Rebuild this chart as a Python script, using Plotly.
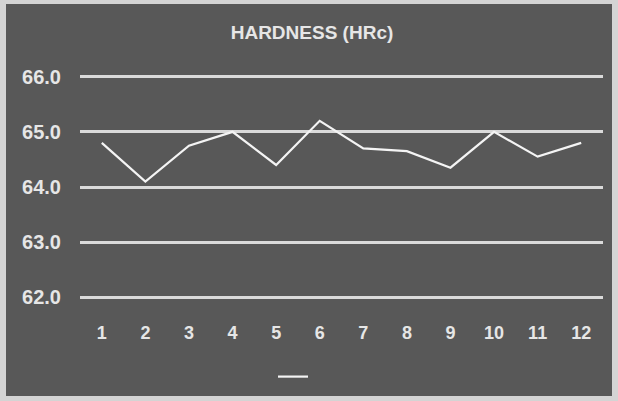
import plotly.graph_objects as go

# Hardness readings (HRc) for twelve samples
samples = ["1", "2", "3", "4", "5", "6", "7", "8", "9", "10", "11", "12"]
hardness = [64.8, 64.1, 64.75, 65.0, 64.4, 65.2, 64.7, 64.65, 64.35, 65.0, 64.55, 64.8]
y_ticks = [62.0, 63.0, 64.0, 65.0, 66.0]
y_tick_text = ["62.0", "63.0", "64.0", "65.0", "66.0"]

W, H = 618, 401
M_L, M_R, M_T, M_B = 80, 15, 75, 102
PW = W - M_L - M_R
PH = H - M_T - M_B

BG = "#585858"
FRAME = "#d4d4d4"
GRID = "#dadada"
TEXT = "#e6e6e6"
FONT = "Liberation Sans"


def px_x(px):
    return (px - M_L) / PW


def px_y(py):
    return (H - M_B - py) / PH


fig = go.Figure()
fig.add_trace(go.Scatter(
    x=samples,
    y=hardness,
    mode="lines",
    name=" ",
    line=dict(color="#f4f4f4", width=2.2),
    showlegend=True,
))

fig.update_layout(
    width=W,
    height=H,
    margin=dict(l=M_L, r=M_R, t=M_T, b=M_B, pad=0, autoexpand=False),
    paper_bgcolor=FRAME,
    plot_bgcolor="rgba(0,0,0,0)",
    title=dict(
        text="HARDNESS (HRc)",
        x=312 / W,
        xanchor="center",
        y=1 - 32 / H,
        yanchor="middle",
        font=dict(family=FONT, size=19, color=TEXT, weight="bold"),
    ),
    xaxis=dict(
        type="category",
        range=[-0.5, 11.5],
        showgrid=False,
        zeroline=False,
        showline=False,
        ticks="",
        automargin=False,
        ticklabelstandoff=21,
        tickfont=dict(family=FONT, size=18, color=TEXT, weight="bold"),
    ),
    yaxis=dict(
        range=[61.97, 66.03],
        tickvals=y_ticks,
        ticktext=y_tick_text,
        showgrid=True,
        gridcolor=GRID,
        gridwidth=3,
        zeroline=False,
        showline=False,
        ticks="",
        automargin=False,
        ticklabelstandoff=18,
        tickfont=dict(family=FONT, size=20, color=TEXT, weight="bold"),
    ),
    showlegend=True,
    legend=dict(
        orientation="h",
        x=px_x(273),
        xanchor="left",
        y=px_y(377),
        yanchor="middle",
        bgcolor="rgba(0,0,0,0)",
        font=dict(family=FONT, size=14, color=TEXT),
    ),
    shapes=[
        dict(
            type="rect",
            xref="paper",
            yref="paper",
            x0=px_x(6),
            x1=px_x(612),
            y0=px_y(396),
            y1=px_y(4),
            fillcolor=BG,
            line=dict(width=0),
            layer="below",
        )
    ],
)

fig.write_html("out.html")
